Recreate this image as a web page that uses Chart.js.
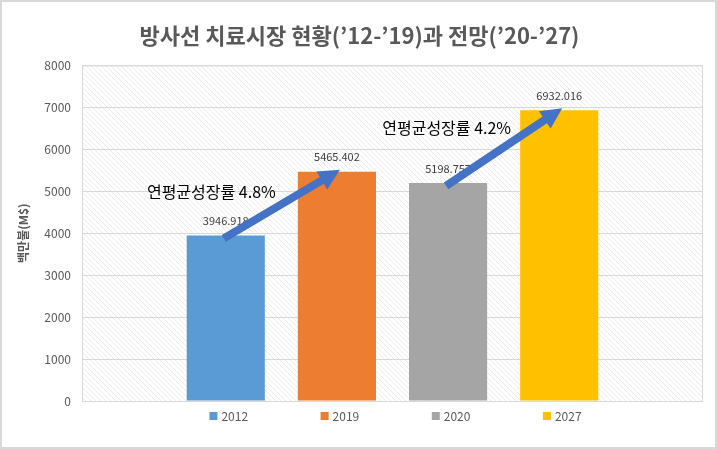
<!DOCTYPE html>
<html>
<head>
<meta charset="utf-8">
<script src="https://cdn.jsdelivr.net/npm/chart.js@4.4.0/dist/chart.umd.min.js"></script>
<style>
  html, body { margin: 0; padding: 0; background: #fff; }
  #wrap { width: 717px; height: 449px; position: relative; box-sizing: border-box; border: 2px solid #d9d9d9; }
</style>
</head>
<body>
<div id="wrap"><canvas id="chart"></canvas></div>
<script>
// chart data
const years = ['2012', '2019', '2020', '2027'];
const values = [3946.918, 5465.402, 5198.757, 6932.016];
const barColors = ['#5b9bd5', '#ed7d31', '#a5a5a5', '#ffc000'];
const growthLabels = ['연평균성장률 4.8%', '연평균성장률 4.2%'];
const yTicks = [0, 1000, 2000, 3000, 4000, 5000, 6000, 7000, 8000];

const FONT = "'Malgun Gothic', 'Noto Sans CJK KR', 'Noto Sans', sans-serif";

// hatched background for the plot area
function makePattern() {
    const c = document.createElement('canvas');
    c.width = 5; c.height = 5;
    const g = c.getContext('2d');
    g.fillStyle = '#ffffff';
    g.fillRect(0, 0, 5, 5);
    g.strokeStyle = '#ececec';
    g.lineWidth = 1;
    g.beginPath();
    g.moveTo(0, 0); g.lineTo(5, 5);
    g.stroke();
    return g.createPattern(c, 'repeat');
}

const plotBackground = {
    id: 'plotBackground',
    beforeDraw(chart) {
        const { ctx, chartArea: a } = chart;
        ctx.save();
        ctx.fillStyle = makePattern();
        ctx.fillRect(a.left, a.top, a.right - a.left, a.bottom - a.top);
        ctx.restore();
    },
    afterDraw(chart) {
        const { ctx, chartArea: a } = chart;
        ctx.save();
        ctx.strokeStyle = '#d9d9d9';
        ctx.lineWidth = 1;
        ctx.strokeRect(a.left + 0.5, a.top + 0.5, a.right - a.left - 1, a.bottom - a.top);
        ctx.restore();
    }
};

// value labels, growth arrows and the legend under the bars
const annotations = {
    id: 'annotations',
    afterDatasetsDraw(chart) {
        const ctx = chart.ctx;
        const bars = chart.data.datasets.map((d, i) => chart.getDatasetMeta(i).data[0]);

        ctx.save();
        ctx.font = '11px ' + FONT;
        ctx.fillStyle = '#404040';
        ctx.textAlign = 'center';
        ctx.textBaseline = 'bottom';
        bars.forEach((b, i) => {
            ctx.fillText(String(values[i]), b.x, b.y - 9);
        });

        // arrows from 2012 -> 2019 and 2020 -> 2027
        const pairs = [[0, 1], [2, 3]];
        const labelOffsets = [[-70, -12], [-57, -19]];
        pairs.forEach((p, k) => {
            const a = bars[p[0]], b = bars[p[1]];
            drawArrow(ctx, a.x - 2, a.y + 3, b.x + 3, b.y - 2);
            const mx = (a.x + b.x) / 2, my = (a.y + b.y) / 2;
            ctx.font = '16px ' + FONT;
            ctx.fillStyle = '#000000';
            ctx.textAlign = 'center';
            ctx.textBaseline = 'middle';
            ctx.fillText(growthLabels[k], mx + labelOffsets[k][0], my + labelOffsets[k][1]);
        });

        // legend
        ctx.font = '12px ' + FONT;
        ctx.textBaseline = 'middle';
        ctx.textAlign = 'left';
        const ly = chart.chartArea.bottom + 15;
        bars.forEach((b, i) => {
            const tw = ctx.measureText(years[i]).width;
            const x0 = b.x - (8 + 4 + tw) / 2 + 3;
            ctx.fillStyle = barColors[i];
            ctx.fillRect(x0, ly - 4, 8, 8);
            ctx.fillStyle = '#595959';
            ctx.fillText(years[i], x0 + 12, ly);
        });
        ctx.restore();
    }
};

function drawArrow(ctx, x1, y1, x2, y2) {
    const ang = Math.atan2(y2 - y1, x2 - x1);
    const len = Math.hypot(x2 - x1, y2 - y1);
    const head = 21, halfW = 10.5, shaft = 4;
    ctx.save();
    ctx.translate(x1, y1);
    ctx.rotate(ang);
    ctx.fillStyle = '#4472c4';
    ctx.beginPath();
    ctx.moveTo(0, -shaft);
    ctx.lineTo(len - head, -shaft);
    ctx.lineTo(len - head, -halfW);
    ctx.lineTo(len, 0);
    ctx.lineTo(len - head, halfW);
    ctx.lineTo(len - head, shaft);
    ctx.lineTo(0, shaft);
    ctx.closePath();
    ctx.fill();
    ctx.restore();
}

new Chart(document.getElementById('chart'), {
    type: 'bar',
    data: {
        labels: [''],
        datasets: years.map((y, i) => ({
            label: y,
            data: [values[i]],
            backgroundColor: barColors[i],
            categoryPercentage: 0.716,
            barPercentage: 0.703
        }))
    },
    options: {
        responsive: true,
        maintainAspectRatio: false,
        animation: false,
        layout: { padding: { left: 14, right: 12, top: 0, bottom: 46 } },
        plugins: {
            legend: { display: false },
            tooltip: { enabled: false },
            title: {
                display: true,
                text: "방사선 치료시장 현황(’12-’19)과 전망(’20-’27)",
                color: '#595959',
                font: { family: FONT, size: 22, weight: 'bold' },
                padding: { top: 20, bottom: 17 }
            }
        },
        scales: {
            x: { display: false },
            y: {
                min: 0,
                max: 8000,
                afterBuildTicks: (s) => { s.ticks = yTicks.map(v => ({ value: v })); },
                afterFit: (s) => { s.width = 66; },
                grid: { color: '#d9d9d9', drawTicks: false },
                border: { display: false },
                ticks: {
                    color: '#595959',
                    font: { family: FONT, size: 12 },
                    padding: 11,
                    callback: (v) => String(v)
                },
                title: {
                    display: true,
                    text: '백만불(M$)',
                    color: '#595959',
                    font: { family: FONT, size: 12, weight: 'bold' },
                    padding: 0
                }
            }
        }
    },
    plugins: [plotBackground, annotations]
});
</script>
</body>
</html>
